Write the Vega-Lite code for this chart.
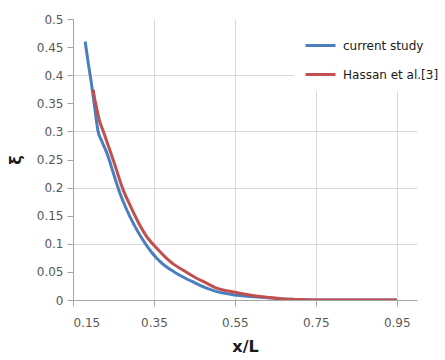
{
  "$schema": "https://vega.github.io/schema/vega-lite/v6.json",
  "autosize": {"type": "none"},
  "padding": {"left": 73, "top": 19, "right": 28, "bottom": 60},
  "width": 344,
  "height": 281,
  "background": "white",
  "config": {
    "view": {"stroke": null},
    "font": "DejaVu Sans",
    "axis": {
      "domainColor": "#A6A6A6",
      "tickColor": "#A6A6A6",
      "gridColor": "#D9D9D9",
      "labelColor": "#595959",
      "labelFont": "DejaVu Sans",
      "labelFontSize": 12,
      "titleFont": "DejaVu Sans",
      "titleFontWeight": "bold",
      "titleColor": "#1a1a1a",
      "titleFontSize": 16,
      "tickSize": 6
    }
  },
  "data": {
    "values": [
      {"series": "current study", "x": 0.18, "y": 0.46},
      {"series": "current study", "x": 0.188, "y": 0.42},
      {"series": "current study", "x": 0.196, "y": 0.383},
      {"series": "current study", "x": 0.204, "y": 0.34},
      {"series": "current study", "x": 0.212, "y": 0.30},
      {"series": "current study", "x": 0.221, "y": 0.283},
      {"series": "current study", "x": 0.237, "y": 0.255},
      {"series": "current study", "x": 0.25, "y": 0.225},
      {"series": "current study", "x": 0.266, "y": 0.19},
      {"series": "current study", "x": 0.28, "y": 0.165},
      {"series": "current study", "x": 0.30, "y": 0.135},
      {"series": "current study", "x": 0.32, "y": 0.11},
      {"series": "current study", "x": 0.344, "y": 0.085},
      {"series": "current study", "x": 0.37, "y": 0.065},
      {"series": "current study", "x": 0.40, "y": 0.05},
      {"series": "current study", "x": 0.422, "y": 0.041},
      {"series": "current study", "x": 0.45, "y": 0.031},
      {"series": "current study", "x": 0.48, "y": 0.021},
      {"series": "current study", "x": 0.505, "y": 0.015},
      {"series": "current study", "x": 0.55, "y": 0.009},
      {"series": "current study", "x": 0.587, "y": 0.006},
      {"series": "current study", "x": 0.63, "y": 0.004},
      {"series": "current study", "x": 0.669, "y": 0.002},
      {"series": "current study", "x": 0.70, "y": 0.001},
      {"series": "current study", "x": 0.75, "y": 0},
      {"series": "current study", "x": 0.95, "y": 0},
      {"series": "Hassan et al.[3]", "x": 0.200, "y": 0.374},
      {"series": "Hassan et al.[3]", "x": 0.203, "y": 0.36},
      {"series": "Hassan et al.[3]", "x": 0.206, "y": 0.35},
      {"series": "Hassan et al.[3]", "x": 0.215, "y": 0.32},
      {"series": "Hassan et al.[3]", "x": 0.225, "y": 0.30},
      {"series": "Hassan et al.[3]", "x": 0.237, "y": 0.275},
      {"series": "Hassan et al.[3]", "x": 0.25, "y": 0.248},
      {"series": "Hassan et al.[3]", "x": 0.274, "y": 0.196},
      {"series": "Hassan et al.[3]", "x": 0.29, "y": 0.17},
      {"series": "Hassan et al.[3]", "x": 0.31, "y": 0.14},
      {"series": "Hassan et al.[3]", "x": 0.33, "y": 0.115},
      {"series": "Hassan et al.[3]", "x": 0.357, "y": 0.092},
      {"series": "Hassan et al.[3]", "x": 0.38, "y": 0.075},
      {"series": "Hassan et al.[3]", "x": 0.40, "y": 0.063},
      {"series": "Hassan et al.[3]", "x": 0.422, "y": 0.053},
      {"series": "Hassan et al.[3]", "x": 0.45, "y": 0.041},
      {"series": "Hassan et al.[3]", "x": 0.48, "y": 0.03},
      {"series": "Hassan et al.[3]", "x": 0.505, "y": 0.021},
      {"series": "Hassan et al.[3]", "x": 0.55, "y": 0.014},
      {"series": "Hassan et al.[3]", "x": 0.587, "y": 0.009},
      {"series": "Hassan et al.[3]", "x": 0.63, "y": 0.005},
      {"series": "Hassan et al.[3]", "x": 0.669, "y": 0.002},
      {"series": "Hassan et al.[3]", "x": 0.70, "y": 0.001},
      {"series": "Hassan et al.[3]", "x": 0.75, "y": 0},
      {"series": "Hassan et al.[3]", "x": 0.95, "y": 0}
    ]
  },
  "mark": {"type": "line", "strokeWidth": 3, "clip": true, "interpolate": "monotone"},
  "encoding": {
    "x": {
      "field": "x", "type": "quantitative", "title": "x/L",
      "scale": {"domain": [0.15, 1.0], "nice": false, "zero": false},
      "axis": {"values": [0.15, 0.35, 0.55, 0.75, 0.95], "format": ".2f", "labelPadding": 11, "titlePadding": 10, "grid": true}
    },
    "y": {
      "field": "y", "type": "quantitative", "title": "ξ",
      "scale": {"domain": [0, 0.5], "nice": false},
      "axis": {
        "values": [0, 0.05, 0.1, 0.15, 0.2, 0.25, 0.3, 0.35, 0.4, 0.45, 0.5],
        "format": ".2~f", "labelPadding": 4, "titlePadding": 13,
        "grid": true,
        "gridOpacity": {"condition": {"test": "round(datum.value*20) % 2 == 0 && datum.value < 0.45", "value": 1}, "value": 0}
      }
    },
    "color": {
      "field": "series", "type": "nominal",
      "scale": {"domain": ["current study", "Hassan et al.[3]"], "range": ["#4A7EBF", "#C0504D"]},
      "legend": {
        "title": null, "orient": "none", "legendX": 221, "legendY": 0,
        "fillColor": "white", "padding": 10,
        "symbolType": "stroke", "symbolSize": 900, "symbolStrokeWidth": 3,
        "labelFontSize": 12, "labelColor": "#1a1a1a", "labelFont": "DejaVu Sans",
        "rowPadding": 6, "labelOffset": 6
      }
    }
  }
}
